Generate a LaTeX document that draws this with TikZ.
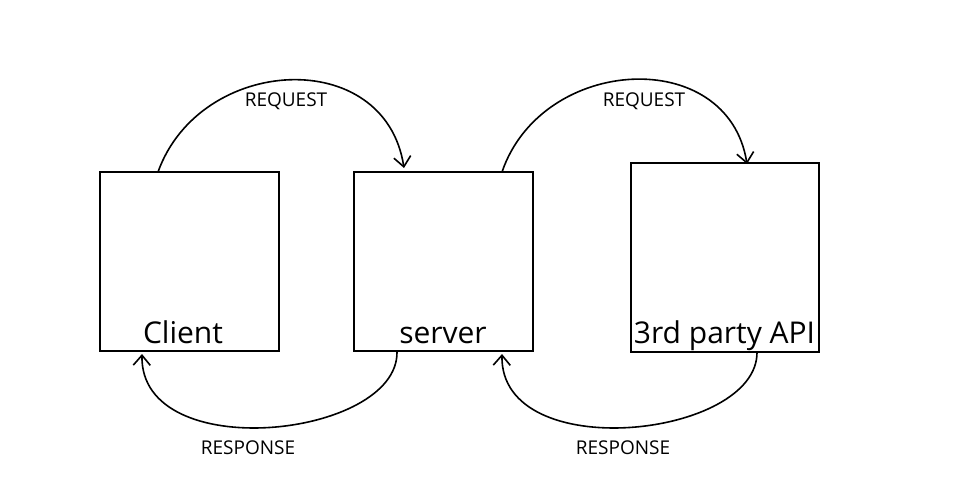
\documentclass[tikz,border=0pt]{standalone}
\usepackage{fontspec}
\setmainfont{Open Sans}
\usetikzlibrary{arrows.meta}
\begin{document}
\begin{tikzpicture}[x=1pt,y=-1pt,
  box/.style={draw, line width=1.3pt, minimum width=#1, inner sep=0pt},
  boxtext/.style={anchor=base, font=\fontsize{30}{34}\selectfont, inner sep=0pt},
  lbl/.style={font=\fontsize{19}{22}\selectfont, inner sep=0pt},
  conn/.style={line width=1.6pt, -{Straight Barb[length=10pt,width=17pt,line width=1.6pt]}}]
\useasboundingbox (0,0) rectangle (955,498);
\fill[white] (0,0) rectangle (955,498);
\node[box=179pt, minimum height=179pt] (client) at (189.5,261.5) {};
\node[box=179pt, minimum height=179pt] (server) at (443.5,261.5) {};
\node[box=188pt, minimum height=189pt] (api) at (725,257.5) {};
\node[boxtext] (tclient) at (183,343) {Client};
\node[boxtext] (tserver) at (443,343) {server};
\node[boxtext] (tapi) at (724.5,343) {3rd party API};
% connector end points
\coordinate (r1s) at (158,172);
\coordinate (r1e) at (404,168);
\coordinate (r2s) at (502,172);
\coordinate (r2e) at (747,164);
\coordinate (p1s) at (397,352);
\coordinate (p1e) at (142,354);
\coordinate (p2s) at (757,352);
\coordinate (p2e) at (502,354);
\draw[conn] (r1s) .. controls (200,55) and (385,45) .. (r1e);
\draw[conn] (r2s) .. controls (542,55) and (728,45) .. (r2e);
\draw[conn] (p1s) .. controls (398,438) and (140,466) .. (p1e);
\draw[conn] (p2s) .. controls (758,438) and (500,466) .. (p2e);
\node[lbl] (lreq1) at (286,101) {REQUEST};
\node[lbl] (lreq2) at (644,101) {REQUEST};
\node[lbl] (lres1) at (248,448) {RESPONSE};
\node[lbl] (lres2) at (623,448) {RESPONSE};
\end{tikzpicture}
\end{document}
